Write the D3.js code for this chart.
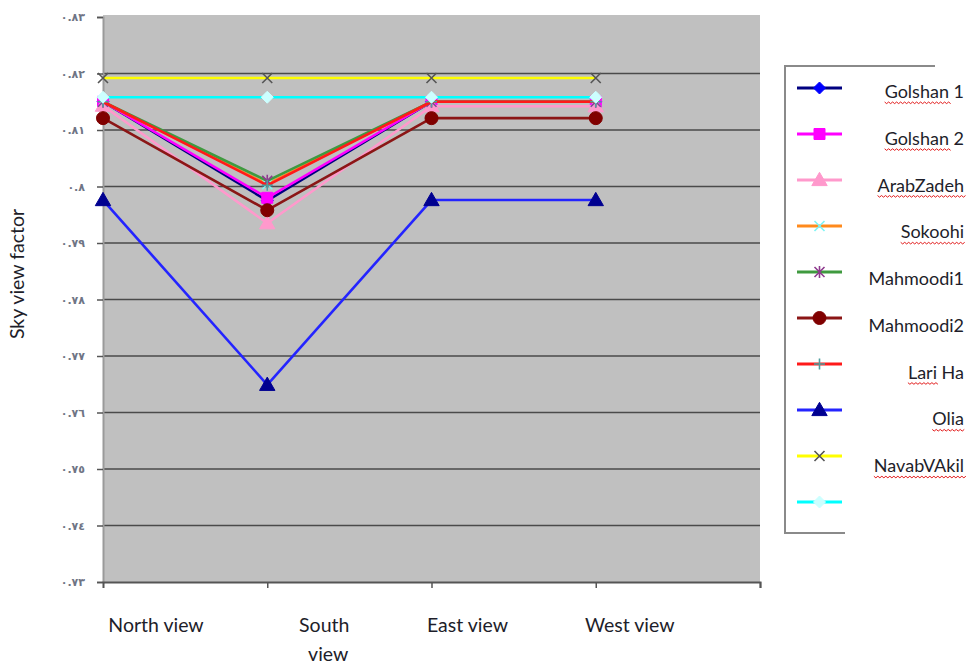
<!DOCTYPE html>
<html><head><meta charset="utf-8">
<script src="https://cdn.jsdelivr.net/npm/d3@7"></script>
<style>body{margin:0;background:#fff} svg{display:block}</style>
</head><body>
<svg id="chart" width="967" height="665"></svg>
<script>
// ---- data ----
const categories = ["North view", "South view", "East view", "West view"];
const seriesNames = ["Golshan 1", "Golshan 2", "ArabZadeh", "Sokoohi", "Mahmoodi1",
                     "Mahmoodi2", "Lari Ha", "Olia", "NavabVAkil", ""];
const golshan1   = [0.8150, 0.7975, 0.8150, 0.8150];
const golshan2   = [0.8150, 0.7980, 0.8150, 0.8150];
const arabZadeh  = [0.8143, 0.7935, 0.8142, 0.8142];
const sokoohi    = [0.8150, 0.8004, 0.8150, 0.8150];
const mahmoodi1  = [0.8150, 0.8010, 0.8150, 0.8150];
const mahmoodi2  = [0.8121, 0.7958, 0.8121, 0.8121];
const lariHa     = [0.8150, 0.8002, 0.8150, 0.8150];
const olia       = [0.7976, 0.7649, 0.7976, 0.7976];
const navabVakil = [0.8192, 0.8192, 0.8192, 0.8192];
const unnamed    = [0.8158, 0.8158, 0.8158, 0.8158];
const seriesValues = [golshan1, golshan2, arabZadeh, sokoohi, mahmoodi1,
                      mahmoodi2, lariHa, olia, navabVakil, unnamed];
const yTicks = [0.73, 0.74, 0.75, 0.76, 0.77, 0.78, 0.79, 0.80, 0.81, 0.82, 0.83];
const yTickLabels = ["٠.٧٣", "٠.٧٤", "٠.٧٥", "٠.٧٦", "٠.٧٧", "٠.٧٨", "٠.٧٩", "٠.٨", "٠.٨١", "٠.٨٢", "٠.٨٣"];
// number of leading characters flagged by the spell checker in each legend label
const spellFlagged = [7, 7, 9, 7, 0, 0, 4, 4, 10, 0];

// ---- styles ----
const styles = [
  {line: "#000080", marker: "diamond",  mfill: "#0000ff", mstroke: "#0000ff"},
  {line: "#ff00ff", marker: "square",   mfill: "#ff00ff", mstroke: "#ff00ff"},
  {line: "#ff99cc", marker: "triangle", mfill: "#ff99cc", mstroke: "#ff99cc"},
  {line: "#ff8a1c", marker: "x",        mfill: "none",    mstroke: "#7ff4f4"},
  {line: "#3f9a3f", marker: "star",     mfill: "none",    mstroke: "#8e3a8e"},
  {line: "#8b1616", marker: "circle",   mfill: "#800000", mstroke: "#800000"},
  {line: "#ff1a1a", marker: "plus",     mfill: "none",    mstroke: "#4f9e9e"},
  {line: "#2424ff", marker: "triangle", mfill: "#000090", mstroke: "#000090"},
  {line: "#ffff00", marker: "x",        mfill: "none",    mstroke: "#555555"},
  {line: "#00ffff", marker: "diamond",  mfill: "#ccffff", mstroke: "#ccffff"}
];
const textFont = "Lato";
const textColor = "#1e1e2a";

const svg = d3.select("#chart");
const plot = {left: 103, right: 760, top: 17, bottom: 582};

const x = d3.scalePoint().domain([...categories, "\u0000"]).range([plot.left, plot.right]);
const y = d3.scaleLinear().domain([0.73, 0.83]).range([plot.bottom, plot.top]);

// plot area
svg.append("rect")
  .attr("x", plot.left).attr("y", plot.top - 2)
  .attr("width", plot.right - plot.left).attr("height", plot.bottom - plot.top + 2)
  .attr("fill", "#c0c0c0");

// horizontal gridlines
svg.append("g").selectAll("line").data(yTicks.slice(1, -1)).join("line")
  .attr("x1", plot.left).attr("x2", plot.right)
  .attr("y1", d => y(d)).attr("y2", d => y(d))
  .attr("stroke", "#4a4a4a").attr("stroke-width", 1.6);

// y axis
const yAxis = d3.axisLeft(y).tickValues(yTicks)
  .tickFormat((d, i) => yTickLabels[i]).tickSize(6).tickPadding(12);
const gy = svg.append("g").attr("transform", `translate(${plot.left},0)`).call(yAxis);
gy.select(".domain").attr("stroke", "#9a9a9a").attr("stroke-width", 2);
gy.selectAll(".tick line").attr("stroke", "#555").attr("stroke-width", 1.5);
gy.selectAll(".tick text")
  .attr("fill", "#6f7585").attr("font-family", "DejaVu Sans")
  .attr("font-size", 11).attr("font-weight", "bold");

// x axis
const xAxis = d3.axisBottom(x).tickSize(6).tickFormat("");
const gx = svg.append("g").attr("transform", `translate(0,${plot.bottom})`).call(xAxis);
gx.select(".domain").attr("stroke", "#555").attr("stroke-width", 2);
gx.selectAll(".tick line").attr("stroke", "#555").attr("stroke-width", 1.5)
  .filter(d => d === categories[0]).remove();

// category labels (each sits to the right of its tick)
const labelShift = [53, 57, 36, 34];
categories.forEach((c, i) => {
  const words = i === 1 ? ["South", "view"] : [c];
  const t = svg.append("text")
    .attr("x", x(c) + labelShift[i]).attr("y", 632)
    .attr("text-anchor", "middle")
    .attr("font-family", textFont).attr("font-size", 19.5)
    .attr("fill", textColor);
  words.forEach((w, k) => t.append("tspan")
    .attr("x", x(c) + labelShift[i] + (k ? 4 : 0)).attr("dy", k ? 29 : 0).text(w));
});

// y axis title
svg.append("text")
  .attr("transform", "translate(24,274) rotate(-90)")
  .attr("text-anchor", "middle")
  .attr("font-family", textFont).attr("font-size", 19.5)
  .attr("fill", textColor)
  .text("Sky view factor");

// marker shapes
function markerPath(type, r) {
  switch (type) {
    case "diamond":  return `M0,${-r}L${r},0L0,${r}L${-r},0Z`;
    case "square":   return `M${-r},${-r}H${r}V${r}H${-r}Z`;
    case "triangle": return `M0,${-r * 1.1}L${r * 1.1},${r * 0.8}L${-r * 1.1},${r * 0.8}Z`;
    case "circle":   return d3.symbol(d3.symbolCircle, Math.PI * r * r)();
    case "x":        return `M${-r},${-r}L${r},${r}M${-r},${r}L${r},${-r}`;
    case "plus":     return `M${-r},0H${r}M0,${-r}V${r}`;
    case "star":     return `M${-r},${-r}L${r},${r}M${-r},${r}L${r},${-r}M0,${-r * 1.2}V${r * 1.2}`;
  }
}
const markerSize = {diamond: 6, square: 5.5, triangle: 7, circle: 6.5, x: 5, plus: 5.5, star: 5};

function drawMarker(g, st, cx, cy) {
  const r = markerSize[st.marker];
  g.append("path")
    .attr("transform", `translate(${cx},${cy})`)
    .attr("d", markerPath(st.marker, r))
    .attr("fill", st.mfill)
    .attr("stroke", st.mstroke)
    .attr("stroke-width", st.mfill === "none" ? 1.6 : 1);
}

// series lines and markers
const line = d3.line().x((d, i) => x(categories[i])).y(d => y(d));
seriesValues.forEach((vals, s) => {
  const g = svg.append("g");
  g.append("path").attr("d", line(vals))
    .attr("fill", "none").attr("stroke", styles[s].line)
    .attr("stroke-width", 2.6).attr("stroke-linejoin", "round");
  vals.forEach((v, i) => drawMarker(g, styles[s], x(categories[i]), y(v)));
});

// legend
const legend = svg.append("g");
const legTop = 66, legBottom = 533, legLeft = 785;
legend.append("path")
  .attr("d", `M935,${legTop}H${legLeft}V${legBottom}H845`)
  .attr("fill", "none").attr("stroke", "#8a8a8a").attr("stroke-width", 2);

const legLineY = d3.scaleLinear().domain([0, 9]).range([88, 502]);
const legTextY = d3.scaleLinear().domain([0, 9]).range([98, 519]);
seriesNames.forEach((name, s) => {
  const ly = legLineY(s);
  legend.append("line").attr("x1", 797).attr("x2", 842).attr("y1", ly).attr("y2", ly)
    .attr("stroke", styles[s].line).attr("stroke-width", 3);
  drawMarker(legend, styles[s], 819.5, ly);
  if (!name) return;
  const t = legend.append("text")
    .attr("x", 964).attr("y", legTextY(s))
    .attr("text-anchor", "end")
    .attr("font-family", textFont).attr("font-size", 18)
    .attr("fill", textColor)
    .text(name);
  const n = spellFlagged[s];
  if (n > 0) {
    const total = t.node().getComputedTextLength();
    const sub = t.node().getSubStringLength(0, n);
    const x0 = 964 - total, x1 = x0 + sub, yy = legTextY(s) + 4;
    let d = `M${x0},${yy}`;
    for (let xx = x0, k = 0; xx < x1; xx += 2, k++) d += `L${xx + 2},${yy + (k % 2 ? 0 : 1.6)}`;
    legend.append("path").attr("d", d).attr("fill", "none")
      .attr("stroke", "#e21b1b").attr("stroke-width", 1);
  }
});
</script>
</body></html>
